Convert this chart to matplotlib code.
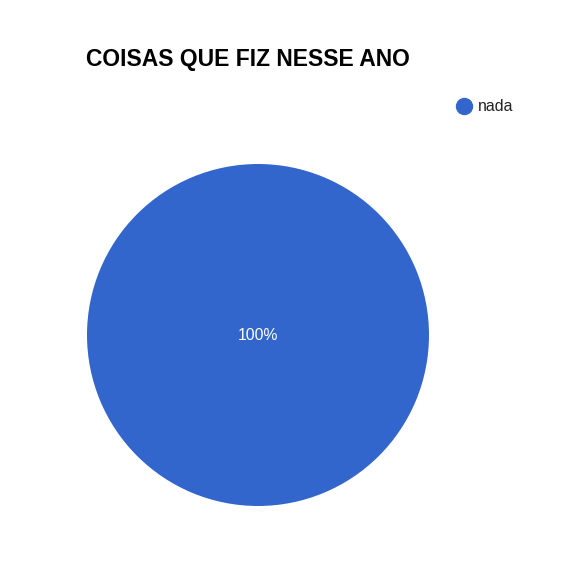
import matplotlib
matplotlib.use("Agg")
import matplotlib.pyplot as plt
from matplotlib.lines import Line2D

title = "COISAS QUE FIZ NESSE ANO"
labels = ["nada"]
values = [100]
colors = ["#3366CC"]

plt.rcParams['font.family'] = ['Liberation Sans', 'DejaVu Sans']

W, H = 584, 583
fig = plt.figure(figsize=(W / 100, H / 100), dpi=100)
fig.patch.set_facecolor("white")

cx, cy, r = 258, 335, 171
ax = fig.add_axes([(cx - r) / W, 1 - (cy + r) / H, 2 * r / W, 2 * r / H])
wedges, texts, autotexts = ax.pie(values, colors=colors, startangle=90,
                                  autopct='%1.0f%%', pctdistance=0.0,
                                  textprops=dict(color="white", fontsize=11.3),
                                  wedgeprops=dict(linewidth=0))
ax.set_aspect('equal')
ax.set_xlim(-1, 1)
ax.set_ylim(-1, 1)
ax.axis('off')

fig.text(86 / W, 1 - 59.5 / H, title, fontsize=16.5, fontweight='bold',
         ha='left', va='center', color='black')

# legend
for i, (lab, col) in enumerate(zip(labels, colors)):
    fig.add_artist(Line2D([464 / W], [1 - 106 / H], marker='o', markersize=11.5,
                          color=col, linestyle='none', transform=fig.transFigure))
    fig.text(478 / W, 1 - 106 / H, lab, fontsize=11.4, ha='left', va='center',
             color='#222222')

fig.savefig("out.png", dpi=100, facecolor="white")
